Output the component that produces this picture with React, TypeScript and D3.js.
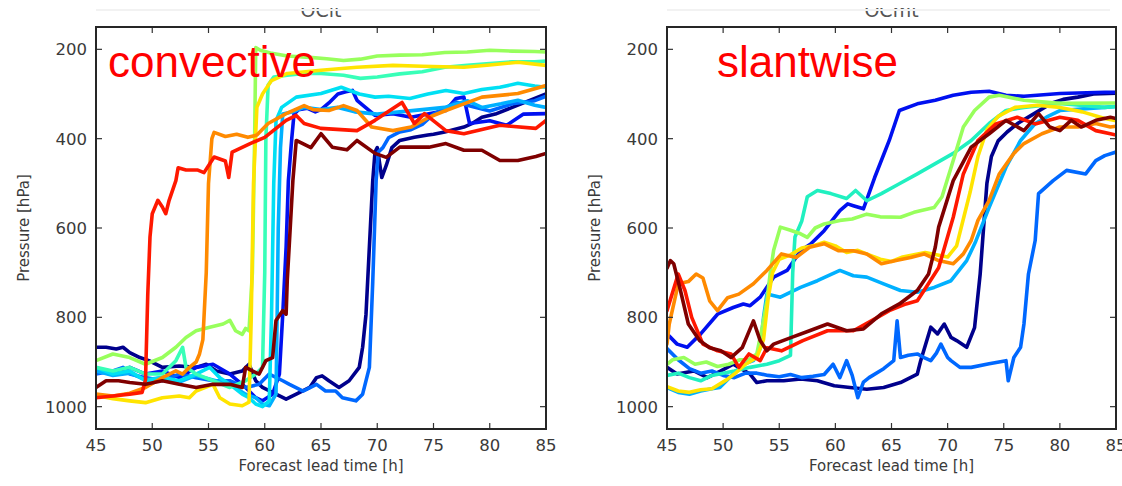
import React from "react";
import * as d3 from "d3";

type Pt = [number, number];

const hourTicks = [45, 50, 55, 60, 65, 70, 75, 80, 85];
const pressureTicks = [200, 400, 600, 800, 1000];

// ---------- convective panel (left) : [hour, hPa] ----------
const convNavy: Pt[] = [[45,867],[45.9,867],[46.8,871],[47.4,867],[48,879],[48.9,890],[49.7,897],[50.9,912],[52.4,909],[53.9,912],[54.8,905],[55.7,920],[56.9,927],[58,920],[58.6,905],[59.2,942],[59.8,957],[61,972],[61.9,983],[62.8,972],[64,957],[64.6,935],[65.1,931],[65.7,942],[66.6,957],[67.5,942],[68.4,912],[68.7,867],[69,793],[69.3,643],[69.6,494],[69.8,430],[70,420],[70.4,487],[70.8,460],[71.3,420],[72,404],[73.3,397],[74.5,392],[75,390],[76,385],[77.7,374],[78.5,365],[79.3,352],[80.5,345],[82,330],[83.5,315],[85,300]];
const convBlue: Pt[] = [[45,920],[46.5,927],[48,912],[49.4,927],[50.9,920],[52.4,935],[53.9,912],[55.4,905],[56.9,927],[58.3,957],[59.2,980],[59.8,987],[60.7,972],[61.3,927],[61.6,793],[61.9,643],[62.1,494],[62.4,400],[62.6,345],[63,335],[63.8,332],[64.5,340],[65,335],[65.7,320],[66.5,300],[67.2,295],[67.8,292],[68.2,314],[69.8,348],[71.4,344],[73,352],[74.6,344],[76.1,337],[77,310],[77.7,307],[78.2,366],[80,360],[81.5,370],[83,345],[85,344]];
const convAzure: Pt[] = [[45,927],[46.5,920],[47.4,912],[48,927],[49.4,935],[50.9,942],[52.4,927],[53.9,935],[55.4,942],[56.9,942],[58.3,957],[59.5,950],[60.4,927],[61.6,942],[62.2,950],[63.4,965],[64.6,950],[65.4,965],[66.3,965],[66.9,980],[68.1,987],[68.7,972],[69.3,912],[69.6,720],[69.9,494],[70.1,430],[70.5,420],[71,398],[72,385],[73,380],[74,368],[75,345],[76,332],[77,318],[78,325],[80,338],[82,322],[84,315],[85,305]];
const convLightBlue: Pt[] = [[45,920],[46.5,930],[48,925],[49.4,940],[50.9,935],[52.4,945],[53.9,930],[55.4,940],[56.9,950],[58.3,972],[59.2,980],[59.8,994],[60.4,998],[61,972],[61.1,800],[61.2,600],[61.4,420],[61.6,345],[62.5,340],[63.5,330],[65,335],[66.5,330],[68,340],[70,345],[72,340],[74,335],[76,330],[78,315],[79.3,330],[81,322],[82.5,314],[84,325],[85,330]];
const convCyan: Pt[] = [[45,912],[46.5,927],[48,920],[49.4,942],[50.9,935],[52.4,942],[53.9,927],[55.1,912],[56,935],[56.9,950],[58,972],[58.6,980],[59.2,994],[59.8,1000],[60.4,987],[60.6,800],[60.8,500],[61,360],[61.5,330],[62.8,307],[65,299],[66.8,285],[68.4,300],[69.8,307],[71,305],[72.9,310],[74.5,300],[76.1,292],[77.7,299],[79.3,290],[80.9,285],[82.5,276],[84,282],[85,285]];
const convAqua: Pt[] = [[45,912],[46.5,920],[48,912],[49.4,927],[50.9,927],[52.1,897],[52.7,867],[53,912],[53.9,927],[55.4,942],[56.9,957],[58.3,942],[59.2,927],[59.8,912],[60,700],[60.1,400],[60.3,280],[60.8,262],[62,258],[63.5,254],[65,254],[67,258],[68.5,265],[70,262],[72,255],[74,250],[76,240],[78,236],[80,232],[82,228],[84,228],[85,226]];
const convGreen: Pt[] = [[45,897],[46.5,882],[48,890],[49.4,905],[50.9,890],[52.1,867],[53,845],[53.9,830],[55.1,822],[56.3,815],[56.9,807],[57.4,830],[58,838],[58.3,825],[58.6,830],[58.9,700],[59.1,400],[59.2,196],[59.6,202],[60.5,208],[62,215],[64,218],[65.5,221],[67,225],[68.5,222],[70,215],[72,213],[74,212],[76,207],[78,206],[80,202],[82,204],[84,205],[85,206]];
const convYellow: Pt[] = [[45,975],[46.5,982],[48,987],[49.4,991],[50.9,980],[52.4,976],[53.3,980],[53.9,965],[55.4,950],[56,980],[56.9,994],[58,998],[58.3,994],[58.6,990],[58.8,800],[59,500],[59.3,330],[59.8,300],[60.6,270],[62,254],[65,247],[68.2,240],[71.4,236],[74,238],[77.7,240],[80,235],[82.5,229],[85,236]];
const convOrange: Pt[] = [[45,972],[46.5,976],[48,970],[49.4,957],[50.9,935],[52.1,920],[52.7,927],[53.3,912],[53.9,900],[54.2,882],[54.5,850],[54.8,700],[55,500],[55.3,400],[55.5,386],[56.5,395],[57.5,390],[58.5,397],[59.3,392],[60.3,366],[61.9,344],[63.5,326],[64.3,335],[65.7,337],[67,326],[68.2,337],[69.5,374],[71.4,382],[73,374],[74.6,352],[76.1,337],[77.7,322],[79.3,307],[80.9,303],[82.5,299],[85,281]];
const convRed: Pt[] = [[45,980],[46.5,976],[48,972],[49.1,968],[49.4,940],[49.6,750],[49.8,620],[50,568],[50.5,538],[50.9,553],[51.2,568],[51.5,538],[52.1,494],[52.3,465],[53,470],[54,470],[54.6,476],[55.5,441],[56.5,450],[56.8,487],[57.1,430],[58.7,411],[60,397],[61.9,359],[62.8,348],[63.5,366],[65,377],[68.2,382],[69.8,359],[72.2,319],[73.3,366],[74.2,344],[76.1,382],[77.7,389],[80.9,370],[84.1,377],[85,359]];
const convDarkRed: Pt[] = [[45,957],[45.9,942],[47,942],[48,946],[49.4,950],[50.9,942],[52.4,950],[53.9,957],[55.4,950],[56.9,950],[58,957],[58.3,912],[58.9,920],[59.5,927],[60.1,897],[60.7,890],[61,807],[61.6,785],[61.9,793],[62,718],[62.5,494],[62.8,404],[64.1,420],[65,389],[66,419],[67.3,425],[68.2,404],[69.8,433],[70.8,442],[72,419],[74.6,419],[76.1,411],[77.7,426],[79.3,426],[80.9,449],[82.5,449],[84.1,440],[85,433]];

// ---------- slantwise panel (right) ----------
const slantNavy: Pt[] = [[45,912],[45.9,927],[47.4,920],[48.6,935],[49.8,920],[50.9,905],[52.4,927],[53,946],[53.9,942],[55.4,942],[56.9,938],[58.4,942],[59.9,953],[61.3,957],[62.8,961],[64.3,957],[65.8,946],[67.3,927],[67.6,897],[68.5,822],[69.1,837],[69.7,815],[70.3,845],[70.8,852],[71.7,867],[72.4,823],[72.9,703],[73.2,600],[73.5,500],[73.9,440],[74.5,405],[75.3,385],[76.3,365],[77.3,350],[78.3,335],[79.3,320],[80.3,312],[81.6,307],[83,300],[85,298]];
const slantBlue: Pt[] = [[45,837],[45.9,860],[46.8,867],[48,837],[49.5,793],[50.9,778],[51.8,770],[52.4,774],[53.3,755],[54.5,710],[55.7,695],[56.9,651],[57.8,636],[59,606],[60.4,561],[61.1,546],[61.6,550],[62.5,557],[63.5,487],[64.8,404],[65.7,337],[67.3,322],[68.9,314],[70.5,303],[72.1,296],[73.7,294],[75.2,303],[76.8,305],[80,299],[84,296],[85,296]];
const slantAzure: Pt[] = [[45,870],[46,895],[47,915],[48,925],[49,920],[50,930],[51,935],[52,925],[53,925],[54,930],[55,933],[56,928],[57,935],[58,932],[59,928],[59.8,905],[60.4,935],[61,897],[61.5,930],[62,980],[62.5,945],[63,935],[64.3,915],[65.2,897],[65.5,808],[65.8,890],[66.5,885],[67.3,882],[67.9,890],[68.5,897],[69,880],[69.4,860],[70,890],[70.3,897],[71.1,912],[72.1,912],[73.7,904],[75.2,897],[75.4,942],[75.9,890],[76.5,867],[76.8,815],[77.2,703],[77.8,628],[78.1,523],[79.4,494],[80.6,471],[82.3,479],[83.2,449],[84,438],[85,430]];
const slantCyan: Pt[] = [[45,957],[46,968],[47,972],[48,965],[49,960],[49.7,957],[50.9,927],[51.8,905],[52.7,897],[53.3,870],[53.6,800],[53.9,748],[55.1,755],[56.9,733],[58.4,718],[60.4,695],[61.6,707],[62.8,710],[64.3,725],[65.8,740],[67.3,744],[68.8,733],[70.3,718],[71.7,673],[72.5,630],[73.7,554],[75.2,464],[76.5,404],[77.8,366],[78.8,352],[80,337],[84,330],[85,328]];
const slantTeal: Pt[] = [[45,930],[46,925],[47,935],[48,942],[49,930],[50,925],[51,920],[52.4,912],[53.9,905],[55,897],[56,885],[56.2,700],[56.4,620],[57,585],[57.5,530],[58.4,516],[59.6,523],[61,534],[61.8,516],[62.8,539],[64.1,523],[65.7,501],[67.3,479],[68.9,456],[70.5,433],[72.1,404],[73.7,366],[75.2,337],[76.8,330],[80,321],[84,330],[85,328]];
const slantGreen: Pt[] = [[45,905],[45.5,895],[46.5,890],[47.5,905],[48.5,900],[49.5,910],[50.5,905],[51.5,895],[52.3,895],[53,882],[53.5,820],[53.9,763],[54.2,700],[54.5,650],[55.1,598],[56,605],[56.9,613],[57.5,621],[58.2,600],[59,591],[60.4,583],[61.5,580],[62.8,569],[64,575],[65.8,576],[67,565],[68.8,554],[69.5,530],[70.5,449],[71.4,374],[72.4,337],[73.7,307],[74.6,303],[76.8,314],[80,321],[85,320]];
const slantYellow: Pt[] = [[45,955],[46,965],[47,968],[48,962],[49,960],[50.3,940],[51,927],[52,905],[53,890],[53.6,850],[54,760],[54.4,700],[55,670],[56,660],[57,645],[58,640],[59,632],[60,640],[61,655],[62,650],[63,660],[64,670],[65,675],[66,665],[67,660],[68,655],[69,660],[70,665],[70.8,640],[71.3,590],[72,520],[72.7,440],[73.5,380],[74.5,350],[76,330],[78,325],[80,330],[82,340],[84,355],[85,360]];
const slantOrange: Pt[] = [[45,860],[45.2,815],[46,725],[46.9,720],[47.6,703],[48.2,712],[48.8,763],[49.5,785],[50.4,756],[51.4,748],[52.7,725],[53.9,695],[55.2,658],[56.5,666],[57.7,643],[59,635],[60.3,651],[61.6,651],[62.8,658],[64.1,680],[65.4,673],[66.7,666],[67.9,658],[69.2,673],[70.5,680],[71.4,658],[72.1,628],[72.7,583],[73.7,538],[74.6,479],[75.9,433],[76.8,411],[78.4,389],[80,374],[81.6,374],[83.2,366],[84.5,374],[85,372]];
const slantRed: Pt[] = [[45,785],[46,703],[46.6,740],[47.2,800],[48.2,860],[49.5,875],[50.7,882],[51.4,912],[52.3,882],[53.3,897],[53.9,868],[55.2,875],[57.1,852],[59.3,830],[61.6,830],[63.2,808],[64.8,785],[66.3,770],[67.3,763],[67.9,740],[69.2,689],[69.9,628],[70.5,576],[71.4,479],[72.7,404],[74.3,367],[76.2,352],[77.8,367],[80,352],[81.6,359],[83.2,382],[84.5,389],[85,392]];
const slantDarkRed: Pt[] = [[45,690],[45.3,673],[45.6,680],[46.2,740],[46.9,815],[47.9,852],[48.8,868],[49.8,875],[50.7,890],[51.7,868],[52.7,808],[53.3,852],[53.9,875],[54.5,860],[56.1,845],[57.7,830],[59.3,815],[61,830],[62.5,826],[64.1,792],[65.7,770],[67.3,740],[68.3,703],[68.9,643],[69.2,598],[70.5,494],[72.1,419],[73.7,389],[75.2,359],[76.8,382],[78.1,344],[79.1,374],[80,382],[81,359],[81.9,374],[83.2,359],[84.5,352],[85,355]];

const COL = {
  navy: "#00008c",
  blue: "#0010f0",
  azure: "#0068ff",
  lightBlue: "#00b0ff",
  cyan: "#00e0f4",
  aqua: "#38ffb8",
  green: "#98ff5c",
  yellow: "#ffe400",
  orange: "#ff8a00",
  red: "#ff1800",
  darkRed: "#7f0000",
};

const convectiveSeries = [
  { data: convNavy, color: COL.navy },
  { data: convBlue, color: COL.blue },
  { data: convAzure, color: COL.azure },
  { data: convLightBlue, color: COL.lightBlue },
  { data: convCyan, color: COL.cyan },
  { data: convAqua, color: COL.aqua },
  { data: convGreen, color: COL.green },
  { data: convYellow, color: COL.yellow },
  { data: convOrange, color: COL.orange },
  { data: convRed, color: COL.red },
  { data: convDarkRed, color: COL.darkRed },
];

const slantwiseSeries = [
  { data: slantNavy, color: COL.navy },
  { data: slantBlue, color: COL.blue },
  { data: slantAzure, color: COL.azure },
  { data: slantCyan, color: COL.lightBlue },
  { data: slantTeal, color: "#20f0c0" },
  { data: slantGreen, color: COL.green },
  { data: slantYellow, color: COL.yellow },
  { data: slantOrange, color: COL.orange },
  { data: slantRed, color: COL.red },
  { data: slantDarkRed, color: COL.darkRed },
];

const FONT = "'DejaVu Sans', sans-serif";
const TOP = 27;
const BOTTOM = 429;

function Panel(props: {
  id: string;
  x0: number;
  x1: number;
  series: { data: Pt[]; color: string }[];
  title: string;
  label: string;
  labelX: number;
  ylabelX: number;
}) {
  const { id, x0, x1, series, title, label, labelX, ylabelX } = props;
  const x = d3.scaleLinear().domain([45, 85]).range([x0, x1]);
  const y = d3.scaleLinear().domain([150, 1050]).range([TOP, BOTTOM]);
  const line = d3
    .line<Pt>()
    .x((d) => x(d[0]))
    .y((d) => y(d[1]));
  const cx = (x0 + x1) / 2;
  const tk = 6;
  return (
    <g>
      <defs>
        <clipPath id={id}>
          <rect x={x0} y={TOP} width={x1 - x0} height={BOTTOM - TOP} />
        </clipPath>
      </defs>
      <text x={cx} y={17} textAnchor="middle" fontFamily={FONT} fontSize={19} fill="#555">
        {title}
      </text>
      <g clipPath={`url(#${id})`}>
        {series.map((s, i) => (
          <path
            key={i}
            d={line(s.data) || ""}
            fill="none"
            stroke={s.color}
            strokeWidth={3.6}
            strokeLinejoin="round"
            strokeLinecap="round"
          />
        ))}
      </g>
      <text
        x={labelX}
        y={77}
        fontFamily="'Liberation Sans', Arial, sans-serif"
        fontSize={44}
        fill="#ff0000"
      >
        {label}
      </text>
      {hourTicks.map((t) => (
        <g key={"x" + t}>
          <line x1={x(t)} x2={x(t)} y1={BOTTOM} y2={BOTTOM - tk} stroke="#333" strokeWidth={1.2} />
          <line x1={x(t)} x2={x(t)} y1={TOP} y2={TOP + tk} stroke="#333" strokeWidth={1.2} />
          <text
            x={x(t)}
            y={451}
            textAnchor="middle"
            fontFamily={FONT}
            fontSize={16.5}
            fill="#3a3a3a"
          >
            {t}
          </text>
        </g>
      ))}
      {pressureTicks.map((t) => (
        <g key={"y" + t}>
          <line x1={x0} x2={x0 + tk} y1={y(t)} y2={y(t)} stroke="#333" strokeWidth={1.2} />
          <line x1={x1} x2={x1 - tk} y1={y(t)} y2={y(t)} stroke="#333" strokeWidth={1.2} />
          <text
            x={x0 - 9}
            y={y(t)}
            dy="0.36em"
            textAnchor="end"
            fontFamily={FONT}
            fontSize={16.5}
            fill="#3a3a3a"
          >
            {t}
          </text>
        </g>
      ))}
      <rect
        x={x0}
        y={TOP}
        width={x1 - x0}
        height={BOTTOM - TOP}
        fill="none"
        stroke="#262626"
        strokeWidth={2}
      />
      <text
        x={cx}
        y={471}
        textAnchor="middle"
        fontFamily={FONT}
        fontSize={15}
        fill="#3a3a3a"
      >
        Forecast lead time [h]
      </text>
      <text
        transform={`translate(${ylabelX},${(TOP + BOTTOM) / 2}) rotate(-90)`}
        textAnchor="middle"
        dy="0.35em"
        fontFamily={FONT}
        fontSize={15}
        fill="#3a3a3a"
      >
        Pressure [hPa]
      </text>
    </g>
  );
}

export default function App() {
  return (
    <div style={{ position: "fixed", left: 0, top: 0 }}>
      <svg width={1122} height={486} style={{ display: "block", background: "#fff" }}>
        <rect x={0} y={0} width={1122} height={486} fill="#fff" />
        <Panel
          id="clipL"
          x0={96}
          x1={546}
          series={convectiveSeries}
          title="OCit"
          label="convective"
          labelX={108}
          ylabelX={24}
        />
        <Panel
          id="clipR"
          x0={667}
          x1={1116}
          series={slantwiseSeries}
          title="OCmt"
          label="slantwise"
          labelX={717}
          ylabelX={595}
        />
        <rect x={0} y={0} width={1122} height={8} fill="#fff" />
        <line x1={96} x2={540} y1={10} y2={10} stroke="#f2f2f2" strokeWidth={2} />
        <line x1={667} x2={1110} y1={10} y2={10} stroke="#f2f2f2" strokeWidth={2} />
      </svg>
    </div>
  );
}
